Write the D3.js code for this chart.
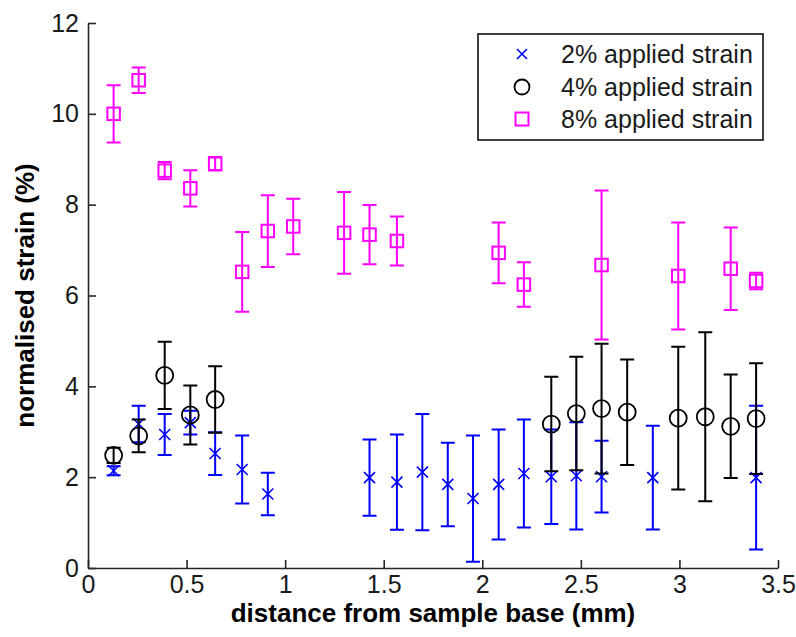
<!DOCTYPE html>
<html>
<head>
<meta charset="utf-8">
<script src="https://cdn.jsdelivr.net/npm/d3@7"></script>
<style>
  html, body { margin: 0; padding: 0; background: #fff; }
  svg { display: block; }
  text { font-family: "Liberation Sans", Arial, Helvetica, sans-serif; }
</style>
</head>
<body>
<svg id="chart" width="796" height="637"></svg>
<script>
// Measurement positions along the sample (mm)
const x2 = [0.13, 0.257, 0.389, 0.519, 0.645, 0.782, 0.912, 1.428, 1.567, 1.696, 1.825, 1.953, 2.083, 2.211, 2.350, 2.477, 2.605, 2.865, 3.389];
const y2 = [2.14, 3.17, 2.94, 3.20, 2.52, 2.17, 1.63, 1.99, 1.89, 2.11, 1.84, 1.53, 1.84, 2.08, 2.01, 2.03, 2.01, 1.99, 1.99];
const e2 = [0.10, 0.40, 0.45, 0.26, 0.47, 0.75, 0.47, 0.84, 1.05, 1.28, 0.92, 1.39, 1.21, 1.19, 1.04, 1.18, 0.79, 1.14, 1.58];

const x4 = [0.13, 0.257, 0.389, 0.519, 0.645, 2.350, 2.477, 2.605, 2.735, 2.994, 3.131, 3.260, 3.389];
const y4 = [2.48, 2.91, 4.24, 3.37, 3.71, 3.17, 3.40, 3.51, 3.43, 3.30, 3.33, 3.12, 3.29];
const e4 = [0.17, 0.36, 0.74, 0.65, 0.73, 1.04, 1.25, 1.43, 1.16, 1.57, 1.86, 1.14, 1.22];

const x8 = [0.13, 0.257, 0.389, 0.519, 0.645, 0.782, 0.912, 1.041, 1.299, 1.428, 1.567, 2.083, 2.211, 2.605, 2.994, 3.260, 3.389];
const y8 = [10.0, 10.74, 8.75, 8.36, 8.90, 6.52, 7.42, 7.52, 7.38, 7.34, 7.20, 6.94, 6.24, 6.67, 6.43, 6.59, 6.32];
const e8 = [0.63, 0.28, 0.19, 0.40, 0.15, 0.88, 0.79, 0.61, 0.90, 0.65, 0.54, 0.67, 0.49, 1.64, 1.18, 0.91, 0.18];

const seriesNames = ["2% applied strain", "4% applied strain", "8% applied strain"];
const xTicks = [0, 0.5, 1, 1.5, 2, 2.5, 3, 3.5];
const yTicks = [0, 2, 4, 6, 8, 10, 12];

const series = [
  { name: seriesNames[0], xs: x2, ys: y2, es: e2, color: "#0000ff", marker: "x" },
  { name: seriesNames[1], xs: x4, ys: y4, es: e4, color: "#000000", marker: "o" },
  { name: seriesNames[2], xs: x8, ys: y8, es: e8, color: "#ff00ff", marker: "s" }
];

const svg = d3.select("#chart");
svg.append("rect").attr("width", 796).attr("height", 637).attr("fill", "#fff");

const margin = { left: 88, right: 18, top: 23, bottom: 69 };
const W = 796, H = 637;
const x = d3.scaleLinear().domain([0, 3.5]).range([margin.left, W - margin.right]);
const y = d3.scaleLinear().domain([0, 12]).range([H - margin.bottom, margin.top]);

// Axes with inward ticks
const axisColor = "#262626";
const gx = svg.append("g")
  .attr("transform", `translate(0,${y(0)})`)
  .call(d3.axisBottom(x).tickValues(xTicks).tickFormat(d3.format("~g"))
    .tickSizeInner(-8).tickSizeOuter(0).tickPadding(7));
const gy = svg.append("g")
  .attr("transform", `translate(${x(0)},0)`)
  .call(d3.axisLeft(y).tickValues(yTicks).tickFormat(d3.format("~g"))
    .tickSizeInner(-8).tickSizeOuter(0).tickPadding(9));

[gx, gy].forEach(g => {
  g.select(".domain").attr("stroke", axisColor).attr("stroke-width", 1.6);
  g.selectAll(".tick line").attr("stroke", axisColor).attr("stroke-width", 1.6);
  g.selectAll(".tick text").attr("fill", "#1a1a1a").style("font-size", "25px")
    .style("font-family", "'Liberation Sans', Arial, sans-serif");
});

// Axis titles
svg.append("text")
  .attr("x", (x(0) + x(3.5)) / 2).attr("y", 622)
  .attr("text-anchor", "middle")
  .style("font-size", "26px").style("font-weight", "bold").attr("fill", "#000")
  .text("distance from sample base (mm)");
svg.append("text")
  .attr("transform", `translate(34,${(y(0) + y(12)) / 2}) rotate(-90)`)
  .attr("text-anchor", "middle")
  .style("font-size", "26px").style("font-weight", "bold").attr("fill", "#000")
  .text("normalised strain (%)");

// Marker shapes
function drawMarker(g, kind, cx, cy, color, size) {
  if (kind === "x") {
    const h = size / 2;
    g.append("path")
      .attr("d", `M${cx - h},${cy - h}L${cx + h},${cy + h}M${cx - h},${cy + h}L${cx + h},${cy - h}`)
      .attr("stroke", color).attr("stroke-width", 1.6).attr("fill", "none");
  } else if (kind === "o") {
    g.append("circle").attr("cx", cx).attr("cy", cy).attr("r", size / 2)
      .attr("stroke", color).attr("stroke-width", 1.8).attr("fill", "none");
  } else {
    g.append("rect").attr("x", cx - size / 2).attr("y", cy - size / 2)
      .attr("width", size).attr("height", size)
      .attr("stroke", color).attr("stroke-width", 2).attr("fill", "none");
  }
}

const markerSize = { x: 11, o: 17, s: 12.5 };
const capHalf = 7;

series.forEach(s => {
  const g = svg.append("g");
  s.xs.forEach((xv, i) => {
    const cx = x(xv), top = y(s.ys[i] + s.es[i]), bot = y(s.ys[i] - s.es[i]);
    g.append("path")
      .attr("d", `M${cx},${top}L${cx},${bot}M${cx - capHalf},${top}L${cx + capHalf},${top}M${cx - capHalf},${bot}L${cx + capHalf},${bot}`)
      .attr("stroke", s.color).attr("stroke-width", 2).attr("fill", "none");
  });
  s.xs.forEach((xv, i) => drawMarker(g, s.marker, x(xv), y(s.ys[i]), s.color, markerSize[s.marker]));
});

// Legend
const lg = svg.append("g");
lg.append("rect").attr("x", 478).attr("y", 34).attr("width", 285).attr("height", 106)
  .attr("fill", "#fff").attr("stroke", "#111").attr("stroke-width", 1.6);
const rowY = [54, 87, 119];
const legendMarkerSize = { x: 10, o: 15, s: 13 };
series.forEach((s, i) => {
  drawMarker(lg, s.marker, 522, rowY[i], s.color, legendMarkerSize[s.marker]);
  lg.append("text").attr("x", 561).attr("y", rowY[i]).attr("dy", "0.35em")
    .style("font-size", "25px").attr("fill", "#1a1a1a").text(s.name);
});
</script>
</body>
</html>
